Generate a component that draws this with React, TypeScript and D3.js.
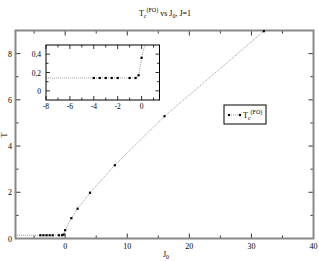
import React from "react";
import * as d3 from "d3";

// J0 values and transition temperatures
const J0 = [-10, -4, -3.5, -3, -2.5, -2, -1, -0.5, -0.25, 0, 1, 2, 4, 8, 16, 32];
const TC = [0.14, 0.14, 0.14, 0.14, 0.14, 0.14, 0.14, 0.14, 0.17, 0.36, 0.88, 1.29, 1.98, 3.17, 5.29, 8.97];

const mainXTicks = [-5, 0, 5, 10, 15, 20, 25, 30, 35, 40];
const mainXLabels = [0, 10, 20, 30, 40];
const mainYTicks = [0, 1, 2, 3, 4, 5, 6, 7, 8, 9];
const mainYLabels = [0, 2, 4, 6, 8];

const insetXTicks = [-8, -7, -6, -5, -4, -3, -2, -1, 0, 1];
const insetXLabels = [-8, -6, -4, -2, 0];
const insetYTicks = [0, 0.1, 0.2, 0.3, 0.4];
const insetYLabels = [0, 0.2, 0.4];

const font = "'Liberation Serif', 'DejaVu Serif', serif";
const data = J0.map((j, i) => ({ j, t: TC[i] }));

const App = () => {
  const W = 319;
  const H = 261;

  // main panel
  const x = d3.scaleLinear().domain([-8, 40]).range([15.5, 313.5]);
  const y = d3.scaleLinear().domain([0, 9]).range([238.5, 30.5]);

  // inset panel
  const xi = d3.scaleLinear().domain([-8, 1.5]).range([46, 159.5]);
  const yi = d3.scaleLinear().domain([-0.1, 0.5]).range([100, 45]);

  const line = d3.line<{ j: number; t: number }>().x(d => x(d.j)).y(d => y(d.t));
  const insetData = data.filter(d => d.j <= 1.5);
  const lineInset = d3.line<{ j: number; t: number }>()
    .x(d => xi(d.j)).y(d => yi(d.t));

  const fmt = (v: number) => (v === 0 ? "0" : d3.format(".1f")(v).replace(".", ","));

  return (
    <svg width={W} height={H} style={{ position: "absolute", left: 0, top: 0 }} fontFamily={font}>
      <rect width={W} height={H} fill="#fff" />
      <defs>
        <clipPath id="mainClip">
          <rect x={15.5} y={28} width={298} height={210.5} />
        </clipPath>
        <clipPath id="insetClip">
          <rect x={46} y={45} width={113.5} height={55} />
        </clipPath>
      </defs>

      {/* title */}
      <text x={165} y={16} fontSize={8} textAnchor="middle">
        T<tspan fontSize={6} dy={2}>c</tspan>
        <tspan fontSize={6} dy={-6}>(FO)</tspan>
        <tspan fontSize={8} dy={4}> vs  J</tspan>
        <tspan fontSize={6} dy={2}>0</tspan>
        <tspan fontSize={8} dy={-2}>, J=1</tspan>
      </text>

      {/* main ticks */}
      {mainXTicks.map(v => {
        const len = v % 10 === 0 ? 5 : 3;
        return (
          <g key={"mx" + v} stroke="#000" strokeWidth={0.8}>
            <line x1={x(v)} x2={x(v)} y1={238.5} y2={238.5 - len} />
            <line x1={x(v)} x2={x(v)} y1={30.5} y2={30.5 + len} />
          </g>
        );
      })}
      {mainYTicks.map(v => {
        const len = v % 2 === 0 ? 5 : 3;
        return (
          <g key={"my" + v} stroke="#000" strokeWidth={0.8}>
            <line x1={15.5} x2={15.5 + len} y1={y(v)} y2={y(v)} />
            <line x1={313.5} x2={313.5 - len} y1={y(v)} y2={y(v)} />
          </g>
        );
      })}
      {mainXLabels.map(v => (
        <text key={"mxl" + v} x={x(v)} y={249} fontSize={8} textAnchor="middle">{v}</text>
      ))}
      {mainYLabels.map(v => (
        <text key={"myl" + v} x={12} y={y(v) + 3} fontSize={8} textAnchor="end">{v}</text>
      ))}

      {/* main frame */}
      <rect x={15.5} y={30.5} width={298} height={208} fill="none" stroke="#888" strokeWidth={2} />

      {/* main series */}
      <g clipPath="url(#mainClip)">
        <path d={line(data) ?? ""} fill="none" stroke="#555" strokeWidth={0.6} strokeDasharray="1,1" />
        {data.map((d, i) => (
          <rect key={"p" + i} x={x(d.j) - 1.1} y={y(d.t) - 1.1} width={2.2} height={2.2} fill="#000" />
        ))}
      </g>

      {/* axis titles */}
      <text x={166} y={257} fontSize={8} textAnchor="middle">
        J<tspan fontSize={6} dy={2}>0</tspan>
      </text>
      <text transform="translate(7,135) rotate(-90)" fontSize={8} textAnchor="middle">T</text>

      {/* inset */}
      <rect x={46} y={45} width={113.5} height={55} fill="#fff" />
      <g clipPath="url(#insetClip)">
        <path d={lineInset(insetData.concat([{ j: 2, t: 1.29 }])) ?? ""} fill="none" stroke="#555" strokeWidth={0.6} strokeDasharray="1,1" />
        {insetData.map((d, i) => (
          <rect key={"ip" + i} x={xi(d.j) - 1.1} y={yi(d.t) - 1.1} width={2.2} height={2.2} fill="#000" />
        ))}
      </g>
      {insetXTicks.map(v => {
        const len = v % 2 === 0 ? 4 : 2.5;
        return (
          <g key={"ix" + v} stroke="#000" strokeWidth={0.8}>
            <line x1={xi(v)} x2={xi(v)} y1={100} y2={100 - len} />
            <line x1={xi(v)} x2={xi(v)} y1={45} y2={45 + len} />
          </g>
        );
      })}
      {insetYTicks.map(v => {
        const len = Math.round(v * 10) % 2 === 0 ? 4 : 2.5;
        return (
          <g key={"iy" + v} stroke="#000" strokeWidth={0.8}>
            <line x1={46} x2={46 + len} y1={yi(v)} y2={yi(v)} />
            <line x1={159.5} x2={159.5 - len} y1={yi(v)} y2={yi(v)} />
          </g>
        );
      })}
      {insetXLabels.map(v => (
        <text key={"ixl" + v} x={xi(v)} y={109} fontSize={7.5} textAnchor="middle">{v}</text>
      ))}
      {insetYLabels.map(v => (
        <text key={"iyl" + v} x={41} y={yi(v) + 3} fontSize={7.5} textAnchor="end">{fmt(v)}</text>
      ))}
      <rect x={46} y={45} width={113.5} height={55} fill="none" stroke="#000" strokeWidth={1} />

      {/* legend */}
      <rect x={224} y={105} width={42} height={19} fill="#fff" stroke="#000" strokeWidth={1} />
      <line x1={229} x2={240} y1={115} y2={115} stroke="#555" strokeWidth={0.6} strokeDasharray="1,1" />
      <rect x={227.9} y={113.9} width={2.2} height={2.2} fill="#000" />
      <rect x={238.9} y={113.9} width={2.2} height={2.2} fill="#000" />
      <text x={243} y={118} fontSize={8}>
        T<tspan fontSize={6} dy={2}>c</tspan>
        <tspan fontSize={6} dy={-6}>(FO)</tspan>
      </text>
    </svg>
  );
};

export default App;
